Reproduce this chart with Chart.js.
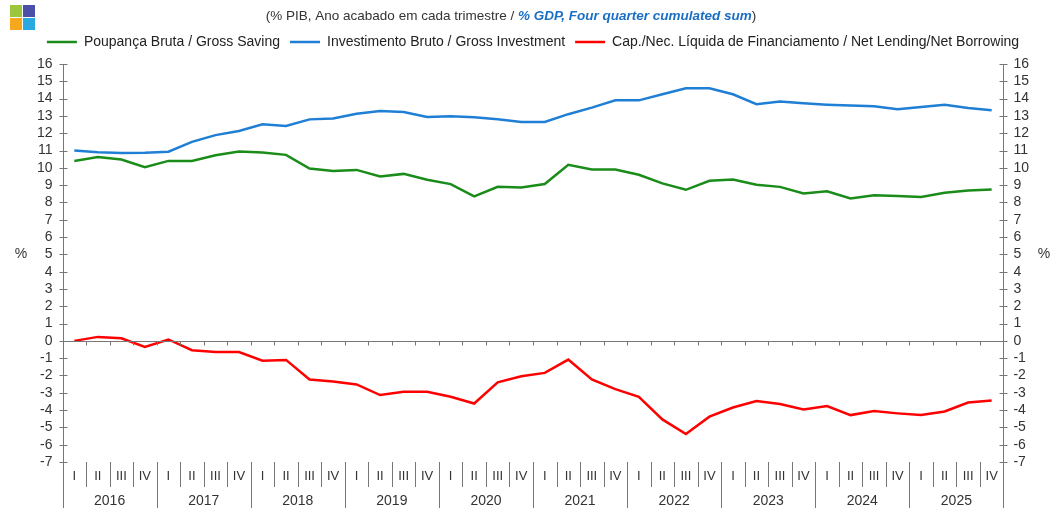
<html>
<head>
<script src="https://cdn.jsdelivr.net/npm/chart.js"></script>
<style>
  body { margin: 0; background: #fff; }
  #wrap { width: 1051px; height: 508px; position: relative; }
</style>
</head>
<body>
<div id="wrap"><canvas id="chart"></canvas></div>
<script>
const years = ['2016', '2017', '2018', '2019', '2020', '2021', '2022', '2023', '2024', '2025'];
const quarters = ['I', 'II', 'III', 'IV'];

const saving = [10.4, 10.63, 10.48, 10.04, 10.4, 10.4, 10.73, 10.94, 10.88, 10.75,
                9.96, 9.81, 9.88, 9.5, 9.65, 9.31, 9.06, 8.35, 8.9, 8.86,
                9.06, 10.17, 9.9, 9.9, 9.6, 9.1, 8.73, 9.25, 9.33, 9.02,
                8.9, 8.52, 8.65, 8.23, 8.42, 8.37, 8.31, 8.56, 8.69, 8.75];
const investment = [11.0, 10.9, 10.85, 10.87, 10.93, 11.5, 11.89, 12.13, 12.52, 12.42,
                    12.8, 12.85, 13.13, 13.29, 13.23, 12.94, 12.98, 12.92, 12.81, 12.65,
                    12.65, 13.1, 13.48, 13.9, 13.9, 14.25, 14.6, 14.6, 14.25, 13.68,
                    13.83, 13.73, 13.65, 13.6, 13.56, 13.39, 13.52, 13.65, 13.46, 13.33];
const lending = [0.0, 0.23, 0.15, -0.35, 0.08, -0.54, -0.65, -0.65, -1.15, -1.1,
                 -2.23, -2.35, -2.52, -3.13, -2.94, -2.94, -3.23, -3.62, -2.4, -2.04,
                 -1.85, -1.08, -2.23, -2.79, -3.23, -4.54, -5.38, -4.38, -3.85, -3.48,
                 -3.65, -3.96, -3.77, -4.29, -4.06, -4.19, -4.29, -4.08, -3.56, -3.44];

const yMin = -7, yMax = 16;
const labels = years.flatMap(y => quarters.map(q => q + ' ' + y));

Chart.defaults.font.family = '"Liberation Sans", Arial, sans-serif';
Chart.defaults.color = '#333';

// a bit more room under the legend
const legendGap = {
  id: 'legendGap',
  beforeInit(chart) {
    const fit = chart.legend.fit;
    chart.legend.fit = function () {
      fit.bind(chart.legend)();
      this.height += 5;
    };
  }
};

// axes, quarter/year labels, title and logo drawn over the chart
const decor = {
  id: 'decor',
  afterDraw(chart) {
    const ctx = chart.ctx, a = chart.chartArea;
    const xs = chart.scales.x, ys = chart.scales.y;
    const n = labels.length;
    const bottom = chart.height;
    const bound = i => i === 0 ? a.left : i === n ? a.right
      : (xs.getPixelForValue(i - 1) + xs.getPixelForValue(i)) / 2;
    ctx.save();
    ctx.strokeStyle = '#777';
    ctx.lineWidth = 1;
    // zero line with ticks
    const y0 = Math.round(ys.getPixelForValue(0)) + 0.5;
    ctx.beginPath();
    ctx.moveTo(a.left, y0); ctx.lineTo(a.right, y0);
    for (let i = 1; i < n; i++) {
      const x = Math.round(bound(i)) + 0.5;
      ctx.moveTo(x, y0); ctx.lineTo(x, y0 + 4);
    }
    ctx.stroke();
    // y axis lines with crossing ticks
    [a.left, a.right].forEach(ax => {
      const x = Math.round(ax) + 0.5;
      ctx.beginPath();
      ctx.moveTo(x, a.top); ctx.lineTo(x, bottom);
      for (let v = yMin; v <= yMax; v++) {
        const y = Math.round(ys.getPixelForValue(v)) + 0.5;
        ctx.moveTo(x - 4, y); ctx.lineTo(x + 4, y);
      }
      ctx.stroke();
    });
    // quarter and year separators
    ctx.beginPath();
    for (let i = 1; i < n; i++) {
      const x = Math.round(bound(i)) + 0.5;
      ctx.moveTo(x, a.bottom);
      ctx.lineTo(x, i % 4 === 0 ? bottom : a.bottom + 25);
    }
    ctx.stroke();
    ctx.fillStyle = '#333';
    ctx.textAlign = 'center';
    ctx.textBaseline = 'middle';
    ctx.font = '13px "Liberation Sans", Arial, sans-serif';
    for (let i = 0; i < n; i++) {
      ctx.fillText(quarters[i % 4], xs.getPixelForValue(i), a.bottom + 14);
    }
    ctx.font = '14px "Liberation Sans", Arial, sans-serif';
    years.forEach((yr, k) => {
      ctx.fillText(yr, (bound(k * 4) + bound(k * 4 + 4)) / 2, a.bottom + 39);
    });
    // % labels
    const ym = ys.getPixelForValue(5);
    ctx.fillText('%', 21, ym);
    ctx.fillText('%', 1044, ym);
    // title
    ctx.font = '13.5px "Liberation Sans", Arial, sans-serif';
    const t1 = '(% PIB, Ano acabado em cada trimestre / ';
    const t2 = '% GDP, Four quarter cumulated sum';
    const t3 = ')';
    const fB = 'italic bold 13.5px "Liberation Sans", Arial, sans-serif';
    const w1 = ctx.measureText(t1).width, w3 = ctx.measureText(t3).width;
    ctx.font = fB;
    const w2 = ctx.measureText(t2).width;
    let tx = 511 - (w1 + w2 + w3) / 2;
    ctx.textAlign = 'left';
    ctx.font = '13.5px "Liberation Sans", Arial, sans-serif';
    ctx.fillText(t1, tx, 16);
    ctx.font = fB; ctx.fillStyle = '#1a6fc4';
    ctx.fillText(t2, tx + w1, 16);
    ctx.font = '13.5px "Liberation Sans", Arial, sans-serif'; ctx.fillStyle = '#333';
    ctx.fillText(t3, tx + w1 + w2, 16);
    // logo
    const logo = [['#9cc63b', 10, 5], ['#4a4fa8', 23, 5], ['#f5a81c', 10, 18], ['#2aa9e0', 23, 18]];
    logo.forEach(([c, x, y]) => { ctx.fillStyle = c; ctx.fillRect(x, y, 12, 12); });
    ctx.restore();
  }
};

const axisY = pos => ({
  position: pos,
  min: yMin,
  max: yMax,
  ticks: { stepSize: 1, autoSkip: false, font: { size: 14 }, color: '#333', padding: 10 },
  grid: { display: false, drawTicks: false },
  border: { display: false }
});

new Chart(document.getElementById('chart'), {
  type: 'line',
  data: {
    labels: labels,
    datasets: [
      { label: 'Poupança Bruta / Gross Saving', data: saving, borderColor: '#1a8c1a', backgroundColor: '#1a8c1a', borderWidth: 2.5, yAxisID: 'y' },
      { label: 'Investimento Bruto / Gross Investment', data: investment, borderColor: '#1f7fd4', backgroundColor: '#1f7fd4', borderWidth: 2.5, yAxisID: 'y' },
      { label: 'Cap./Nec. Líquida de Financiamento / Net Lending/Net Borrowing', data: lending, borderColor: '#ff0000', backgroundColor: '#ff0000', borderWidth: 2.5, yAxisID: 'y' }
    ]
  },
  options: {
    responsive: true,
    maintainAspectRatio: false,
    animation: false,
    elements: {
      point: { radius: 0 },
      line: { tension: 0 }
    },
    layout: { padding: { top: 25, left: 27, right: 12, bottom: 46 } },
    plugins: {
      legend: {
        position: 'top',
        labels: {
          usePointStyle: true,
          pointStyle: 'line',
          pointStyleWidth: 30,
          padding: 10,
          color: '#222',
          font: { size: 14 }
        }
      },
      tooltip: { enabled: false }
    },
    scales: {
      x: { display: false, offset: true },
      y: axisY('left'),
      y2: axisY('right')
    }
  },
  plugins: [legendGap, decor]
});
</script>
</body>
</html>
